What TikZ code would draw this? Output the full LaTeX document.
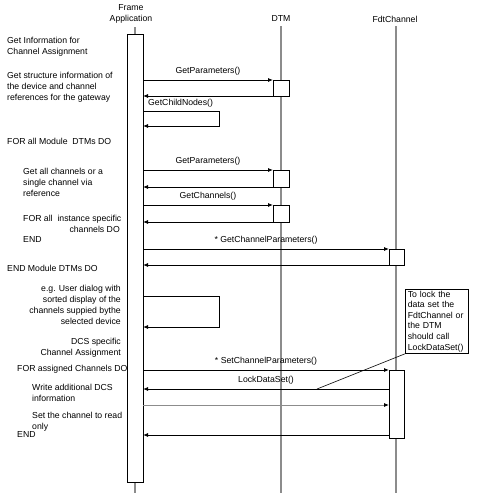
\documentclass[tikz,border=0pt]{standalone}
\usepackage{fontspec}
\setmainfont{Liberation Sans}
\usetikzlibrary{arrows.meta}

\tikzset{
  life/.style={draw=black!45, line width=1.2pt},
  act/.style={draw, fill=white, line width=0.8pt, inner sep=0pt, outer sep=0pt, minimum width=16pt},
  msg/.style={-{Latex[length=5pt,width=4pt]}, line width=0.8pt},
  lbl/.style={inner sep=0pt, font=\fontsize{8.7}{11}\selectfont},
  txt/.style={inner sep=0pt, font=\fontsize{8.7}{11}\selectfont},
  note/.style={draw, fill=white, line width=0.7pt, inner xsep=2.5pt, inner ysep=1.5pt, text width=58pt, align=left, font=\fontsize{8.7}{10.6}\selectfont}
}

\begin{document}
\begin{tikzpicture}[x=1pt, y=-1pt]
	\useasboundingbox (0,0) rectangle (478,493);

	\node[txt, align=center] (fa) at (131,14) {Frame\\Application};
	\node[txt] (dtm) at (281,19) {DTM};
	\node[txt] (fdt) at (395,19) {FdtChannel};

	\coordinate (fatop) at (135,27);
	\coordinate (fabot) at (135,493);
	\coordinate (dtmtop) at (281,26);
	\coordinate (dtmbot) at (281,493);
	\coordinate (fdttop) at (396,26);
	\coordinate (fdtbot) at (396,493);
	\draw[life] (fatop) -- (fabot);
	\draw[life] (dtmtop) -- (dtmbot);
	\draw[life] (fdttop) -- (fdtbot);

	\node[act, minimum height=448pt] (fab) at (135,258) {};
	\node[act, minimum height=16pt] (d1) at (281,88) {};
	\node[act, minimum height=17pt] (d2) at (281,178.5) {};
	\node[act, minimum height=17pt] (d3) at (281,213.5) {};
	\node[act, minimum width=15pt, minimum height=16pt] (f1) at (396.5,257) {};
	\node[act, minimum width=15pt, minimum height=68pt] (f2) at (396.5,404) {};

	\draw[msg] (fab.east |- d1.north) -- node[lbl, above=4pt] {GetParameters()} (d1.north west);
	\draw[msg] (d1.south west) -- (fab.east |- d1.south);

	\coordinate (s1a) at (143,111);
	\coordinate (s1b) at (219,111);
	\coordinate (s1c) at (219,126);
	\coordinate (s1d) at (143,126);
	\node[lbl, anchor=west] at (148,103) {GetChildNodes()};
	\draw[msg] (s1a) -- (s1b) -- (s1c) -- (s1d);

	\draw[msg] (fab.east |- d2.north) -- node[lbl, above=4pt] {GetParameters()} (d2.north west);
	\draw[msg] (d2.south west) -- (fab.east |- d2.south);
	\draw[msg] (fab.east |- d3.north) -- node[lbl, above=4pt] {GetChannels()} (d3.north west);
	\draw[msg] (d3.south west) -- (fab.east |- d3.south);
	\draw[msg] (fab.east |- f1.north) -- node[lbl, above=4pt] {* GetChannelParameters()} (f1.north west);
	\draw[msg] (f1.south west) -- (fab.east |- f1.south);

	\coordinate (s2a) at (143,296);
	\coordinate (s2b) at (219,296);
	\coordinate (s2c) at (219,327);
	\coordinate (s2d) at (143,327);
	\draw[msg] (s2a) -- (s2b) -- (s2c) -- (s2d);

	\coordinate (y6) at (0,389);
	\coordinate (y7) at (0,405);
	\coordinate (y8) at (0,435);
	\draw[msg] (fab.east |- f2.north) -- node[lbl, above=4pt] {* SetChannelParameters()} (f2.north west);
	\draw[msg] (f2.west |- y6) -- node[lbl, above=4pt] {LockDataSet()} (fab.east |- y6);
	\draw[-{Latex[length=5pt,width=4pt,color=black]}, line width=0.8pt, draw=black!45] (fab.east |- y7) -- (f2.west |- y7);
	\draw[msg] (f2.west |- y8) -- (fab.east |- y8);

	\node[note, anchor=north west, minimum width=63pt, minimum height=64pt] (nt) at (405,289)
		{To lock the\\data set the\\FdtChannel or\\the DTM\\should call\\LockDataSet()};
	\coordinate (ntend) at (317,389);
	\draw[line width=0.6pt] (nt.south west) -- (ntend);

	\node[txt, anchor=north west, align=left] (t1) at (7,36.5) {Get Information for\\Channel Assignment};
	\node[txt, anchor=north west, align=left] (t2) at (7,71.5) {Get structure information of\\the device and channel\\references for the gateway};
	\node[txt, anchor=north west] (t3) at (7,137.5) {FOR all Module~ DTMs DO};
	\node[txt, anchor=north west, align=left] (t4) at (23,167.5) {Get all channels or a\\single channel via\\reference};
	\node[txt, anchor=north west] (t5) at (23,214.5) {FOR all~ instance specific};
	\node[txt, anchor=north east] (t6) at (120,225.5) {channels DO};
	\node[txt, anchor=north west] (t7) at (23,236.5) {END};
	\node[txt, anchor=north west] (t8) at (7,264.5) {END Module DTMs DO};
	\node[txt, anchor=north east, align=right] (t9) at (121,284.5) {e.g. User dialog with\\sorted display of the\\channels suppied bythe\\selected device};
	\node[txt, anchor=north east, align=right] (t10) at (121,337.5) {DCS specific\\Channel Assignment};
	\node[txt, anchor=north west] (t11) at (17,364.5) {FOR assigned Channels DO};
	\node[txt, anchor=north west, align=left] (t12) at (32,383.5) {Write additional DCS\\information};
	\node[txt, anchor=north west, align=left] (t13) at (32,411.5) {Set the channel to read\\only};
	\node[txt, anchor=north west] (t14) at (17,431.5) {END};
\end{tikzpicture}
\end{document}
